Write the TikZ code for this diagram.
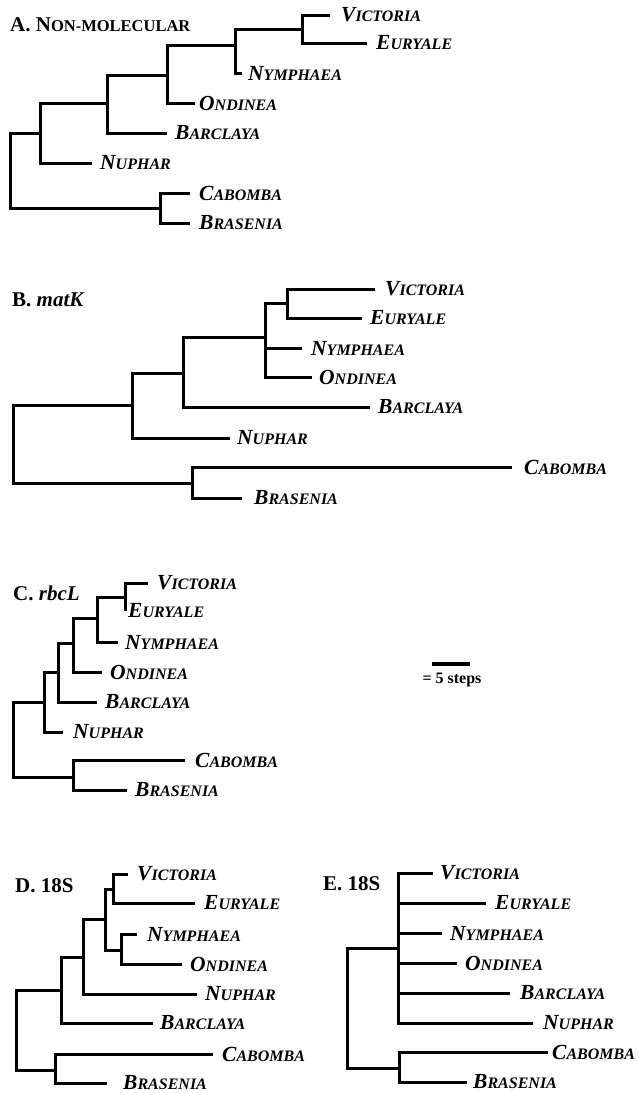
\documentclass[tikz,border=0pt]{standalone}
\usepackage{fontspec}
\setmainfont{Liberation Serif}
\newcommand{\taxon}[2]{{\fontsize{21.5pt}{22pt}\selectfont #1}{\fontsize{16pt}{16pt}\selectfont #2}}
\begin{document}
\begin{tikzpicture}[x=1pt,y=-1pt,
  twig/.style={line width=3pt},
  leaf/.style={anchor=west, inner ysep=0pt, inner xsep=#1, font=\bfseries\itshape},
  leaf/.default=8pt,
  ttl/.style={anchor=west, inner sep=0pt, font=\bfseries\fontsize{21pt}{22pt}\selectfont}]
\fill[white] (0,0) rectangle (639,1093);
\useasboundingbox (0,0) rectangle (639,1093);

% ---------- A. Non-molecular ----------
\node[ttl] (tA) at (10,25) {A. N{\fontsize{16.5pt}{17pt}\selectfont ON-MOLECULAR}};
\coordinate (ar) at (10,170);
\coordinate (a1) at (40,133);
\coordinate (a2) at (107,103);
\coordinate (a3) at (167,75);
\coordinate (a4) at (235,45);
\coordinate (a5) at (302,29);
\coordinate (a6) at (160,208);
\node[leaf=11pt] (aVic) at (330,15) {\taxon{V}{ICTORIA}};
\node[leaf=9pt] (aEur) at (367,43) {\taxon{E}{URYALE}};
\node[leaf=6pt] (aNym) at (242,73) {\taxon{N}{YMPHAEA}};
\node[leaf=4pt] (aOnd) at (195,103) {\taxon{O}{NDINEA}};
\node[leaf=8pt] (aBar) at (167,133) {\taxon{B}{ARCLAYA}};
\node[leaf=8pt] (aNup) at (92,163) {\taxon{N}{UPHAR}};
\node[leaf=9pt] (aCab) at (190,193) {\taxon{C}{ABOMBA}};
\node[leaf=9pt] (aBra) at (190,223) {\taxon{B}{RASENIA}};
\draw[twig] (ar) |- (a1);  \draw[twig] (ar) |- (a6);
\draw[twig] (a1) |- (a2);  \draw[twig] (a1) |- (aNup.west);
\draw[twig] (a2) |- (a3);  \draw[twig] (a2) |- (aBar.west);
\draw[twig] (a3) |- (a4);  \draw[twig] (a3) |- (aOnd.west);
\draw[twig] (a4) |- (a5);  \draw[twig] (a4) |- (aNym.west);
\draw[twig] (a5) |- (aVic.west); \draw[twig] (a5) |- (aEur.west);
\draw[twig] (a6) |- (aCab.west); \draw[twig] (a6) |- (aBra.west);

% ---------- B. matK ----------
\node[ttl] (tB) at (12,300) {B. \textit{matK}};
\coordinate (br) at (13,444);
\coordinate (b1) at (132,405);
\coordinate (b2) at (183,373);
\coordinate (b3) at (265,337);
\coordinate (b4) at (287,303);
\coordinate (b6) at (192,483);
\node[leaf=10pt] (bVic) at (375,289) {\taxon{V}{ICTORIA}};
\node[leaf=8pt] (bEur) at (362,318) {\taxon{E}{URYALE}};
\node[leaf=9pt] (bNym) at (302,348) {\taxon{N}{YMPHAEA}};
\node[leaf=7pt] (bOnd) at (312,377) {\taxon{O}{NDINEA}};
\node[leaf=8pt] (bBar) at (370,407) {\taxon{B}{ARCLAYA}};
\node[leaf=7pt] (bNup) at (230,438) {\taxon{N}{UPHAR}};
\node[leaf=12pt] (bCab) at (512,467) {\taxon{C}{ABOMBA}};
\node[leaf=12pt] (bBra) at (242,498) {\taxon{B}{RASENIA}};
\draw[twig] (br) |- (b1);  \draw[twig] (br) |- (b6);
\draw[twig] (b1) |- (b2);  \draw[twig] (b1) |- (bNup.west);
\draw[twig] (b2) |- (b3);  \draw[twig] (b2) |- (bBar.west);
\draw[twig] (b3) |- (b4);  \draw[twig] (b3) |- (bNym.west); \draw[twig] (b3) |- (bOnd.west);
\draw[twig] (b4) |- (bVic.west); \draw[twig] (b4) |- (bEur.west);
\draw[twig] (b6) |- (bCab.west); \draw[twig] (b6) |- (bBra.west);

% ---------- C. rbcL ----------
\node[ttl] (tC) at (13,593) {C. \textit{rbcL}};
\coordinate (cr) at (13,740);
\coordinate (c1) at (44,702);
\coordinate (c2) at (58,672);
\coordinate (c3) at (73,643);
\coordinate (c4) at (97,618);
\coordinate (c5) at (125,597);
\coordinate (c6) at (73,777);
\node[leaf=9pt] (cVic) at (148,583) {\taxon{V}{ICTORIA}};
\node[leaf=3pt] (cEur) at (125,611) {\taxon{E}{URYALE}};
\node[leaf=7pt] (cNym) at (118,642) {\taxon{N}{YMPHAEA}};
\node[leaf=8pt] (cOnd) at (102,672) {\taxon{O}{NDINEA}};
\node[leaf=8pt] (cBar) at (97,702) {\taxon{B}{ARCLAYA}};
\node[leaf=10pt] (cNup) at (63,732) {\taxon{N}{UPHAR}};
\node[leaf=10pt] (cCab) at (185,760) {\taxon{C}{ABOMBA}};
\node[leaf=8pt] (cBra) at (127,790) {\taxon{B}{RASENIA}};
\draw[twig] (cr) |- (c1);  \draw[twig] (cr) |- (c6);
\draw[twig] (c1) |- (c2);  \draw[twig] (c1) |- (cNup.west);
\draw[twig] (c2) |- (c3);  \draw[twig] (c2) |- (cBar.west);
\draw[twig] (c3) |- (c4);  \draw[twig] (c3) |- (cOnd.west);
\draw[twig] (c4) |- (c5);  \draw[twig] (c4) |- (cNym.west);
\draw[twig] (c5) |- (cVic.west); \draw[twig] (c5) |- (cEur.west);
\draw[twig] (c6) |- (cCab.west); \draw[twig] (c6) |- (cBra.west);

% ---------- scale bar ----------
\coordinate (sb1) at (432,664);
\coordinate (sb2) at (470,664);
\draw[line width=3.5pt] (sb1) -- (sb2);
\node[font=\bfseries\fontsize{16pt}{16pt}\selectfont, inner sep=0pt] (sbt) at (452,680) {= 5 steps};

% ---------- D. 18S ----------
\node[ttl] (tD) at (15,886) {D. 18S};
\coordinate (dr) at (16,1030);
\coordinate (d1) at (61,990);
\coordinate (d2) at (83,957);
\coordinate (d3) at (105,919);
\coordinate (d4) at (113,889);
\coordinate (d5) at (121,950);
\coordinate (d6) at (55,1070);
\node[leaf=9pt] (dVic) at (128,874) {\taxon{V}{ICTORIA}};
\node[leaf=9pt] (dEur) at (195,903) {\taxon{E}{URYALE}};
\node[leaf=10pt] (dNym) at (137,934) {\taxon{N}{YMPHAEA}};
\node[leaf=8pt] (dOnd) at (182,964) {\taxon{O}{NDINEA}};
\node[leaf=8pt] (dNup) at (197,994) {\taxon{N}{UPHAR}};
\node[leaf=7pt] (dBar) at (153,1023) {\taxon{B}{ARCLAYA}};
\node[leaf=9pt] (dCab) at (213,1054) {\taxon{C}{ABOMBA}};
\node[leaf=16pt] (dBra) at (107,1083) {\taxon{B}{RASENIA}};
\draw[twig] (dr) |- (d1);  \draw[twig] (dr) |- (d6);
\draw[twig] (d1) |- (d2);  \draw[twig] (d1) |- (dBar.west);
\draw[twig] (d2) |- (d3);  \draw[twig] (d2) |- (dNup.west);
\draw[twig] (d3) |- (d4);  \draw[twig] (d3) |- (d5);
\draw[twig] (d4) |- (dVic.west); \draw[twig] (d4) |- (dEur.west);
\draw[twig] (d5) |- (dNym.west); \draw[twig] (d5) |- (dOnd.west);
\draw[twig] (d6) |- (dCab.west); \draw[twig] (d6) |- (dBra.west);

% ---------- E. 18S ----------
\node[ttl] (tE) at (323,884) {E. 18S};
\coordinate (er) at (347,1008);
\coordinate (e1) at (398,948);
\coordinate (e6) at (399,1068);
\node[leaf=7pt] (eVic) at (433,873) {\taxon{V}{ICTORIA}};
\node[leaf=9pt] (eEur) at (486,903) {\taxon{E}{URYALE}};
\node[leaf=8pt] (eNym) at (442,933) {\taxon{N}{YMPHAEA}};
\node[leaf=8pt] (eOnd) at (457,963) {\taxon{O}{NDINEA}};
\node[leaf=10pt] (eBar) at (510,993) {\taxon{B}{ARCLAYA}};
\node[leaf=10pt] (eNup) at (533,1023) {\taxon{N}{UPHAR}};
\node[leaf=4pt] (eCab) at (548,1052) {\taxon{C}{ABOMBA}};
\node[leaf=6pt] (eBra) at (467,1082) {\taxon{B}{RASENIA}};
\draw[twig] (er) |- (e1);  \draw[twig] (er) |- (e6);
\draw[twig] (e1) |- (eVic.west); \draw[twig] (e1) |- (eEur.west);
\draw[twig] (e1) |- (eNym.west); \draw[twig] (e1) |- (eOnd.west);
\draw[twig] (e1) |- (eBar.west); \draw[twig] (e1) |- (eNup.west);
\draw[twig] (e6) |- (eCab.west); \draw[twig] (e6) |- (eBra.west);
\end{tikzpicture}
\end{document}
